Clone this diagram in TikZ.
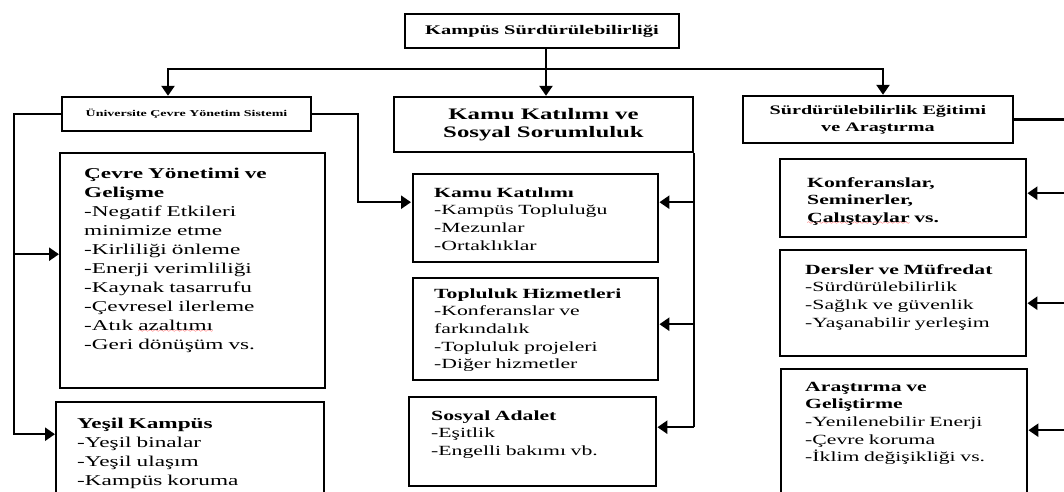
\documentclass[tikz,border=0pt]{standalone}
\usepackage{fontspec}
\setmainfont{Liberation Serif}[FakeStretch=1.55]
\usetikzlibrary{arrows.meta}

\font\dalgafont=lasy6
\newcommand\yanlis[1]{\setbox0\hbox{#1}\rlap{\textcolor{red}{\lower2.2pt\hbox to\wd0{\xleaders\hbox{\dalgafont\char58}\hfill}}}\box0\relax}

\begin{document}
\begin{tikzpicture}[x=1pt, y=-1pt,
		kutu/.style={draw, line width=2.4pt, anchor=north west, align=left, inner ysep=0pt},
		baslikkutu/.style={draw, line width=2.4pt, align=center},
		ok/.style={line width=2.4pt, -{Triangle[length=10pt,width=13pt]}},
		cizgi/.style={line width=2.4pt},
		solmetin/.style={font=\fontsize{15}{19}\selectfont},
		metin/.style={font=\fontsize{14}{17.6}\selectfont},
	]
	\useasboundingbox (0,0) rectangle (1064,491);
	\clip (0,0) rectangle (1064,491);

	% ust seviye
	\node[baslikkutu, font=\bfseries\fontsize{13.2}{16}\selectfont, minimum width=274pt, minimum height=34pt] (kampus) at (542,31) {Kampüs Sürdürülebilirliği};
	\node[baslikkutu, font=\bfseries\fontsize{9}{11}\selectfont, minimum width=249pt, minimum height=34pt] (ucys) at (186.5,114) {Üniversite Çevre Yönetim Sistemi};
	\node[baslikkutu, font=\bfseries\fontsize{16}{18}\selectfont, minimum width=299pt, minimum height=55pt] (kamu) at (543.5,124.5) {Kamu Katılımı ve\\Sosyal Sorumluluk};
	\node[baslikkutu, font=\bfseries\fontsize{13}{17}\selectfont, minimum width=270pt, minimum height=47pt] (egitim) at (878,119.5) {Sürdürülebilirlik Eğitimi\\ve Araştırma};

	% sol sutun
	\node[kutu, solmetin, inner xsep=24pt, text width=217pt, text height=25pt, text depth=210pt] (cevre) at (59,152) {\textbf{Çevre Yönetimi ve}\\\textbf{Gelişme}\\-Negatif Etkileri\\minimize etme\\-Kirliliği önleme\\-Enerji verimliliği\\-Kaynak tasarrufu\\-Çevresel ilerleme\\-Atık \yanlis{azaltımı}\\-Geri dönüşüm vs.};
	\node[kutu, solmetin, inner xsep=21pt, text width=226pt, text height=26pt, text depth=100pt] (yesil) at (55,401) {\textbf{Yeşil Kampüs}\\-Yeşil binalar\\-Yeşil ulaşım\\-Kampüs koruma};

	% orta sutun
	\node[kutu, metin, inner xsep=21pt, text width=203pt, text height=23pt, text depth=65pt] (kk) at (412,173) {\textbf{Kamu Katılımı}\\-Kampüs Topluluğu\\-Mezunlar\\-Ortaklıklar};
	\node[kutu, metin, inner xsep=21pt, text width=203pt, text height=20pt, text depth=82pt] (th) at (412,277) {\textbf{Topluluk Hizmetleri}\\-Konferanslar ve\\farkındalık\\-Topluluk projeleri\\-Diğer hizmetler};
	\node[kutu, metin, inner xsep=22pt, text width=203pt, text height=23pt, text depth=66pt] (sa) at (408,396) {\textbf{Sosyal Adalet}\\-Eşitlik\\-Engelli bakımı vb.};

	% sag sutun
	\node[kutu, metin, inner xsep=27pt, text width=192pt, text height=28pt, text depth=50pt] (konf) at (779,158) {\textbf{Konferanslar,}\\\textbf{Seminerler,}\\\textbf{\yanlis{Çalıştaylar} vs.}};
	\node[kutu, metin, inner xsep=25pt, text width=196pt, text height=24pt, text depth=82pt] (ders) at (779,249) {\textbf{Dersler ve Müfredat}\\-Sürdürülebilirlik\\-Sağlık ve güvenlik\\-Yaşanabilir yerleşim};
	\node[kutu, metin, inner xsep=24pt, text width=198pt, text height=22pt, text depth=110pt] (arge) at (780,368) {\textbf{Araştırma ve}\\\textbf{Geliştirme}\\-Yenilenebilir Enerji\\-Çevre koruma\\-İklim değişikliği vs.};

	% baglanti noktalari
	\coordinate (dal) at (546,69);
	\coordinate (solkol) at (14,0);
	\coordinate (ara) at (358,0);
	\coordinate (sagkol) at (1068,0);
	\coordinate (cevre-ok) at ([yshift=16.5pt]cevre.west);
	\coordinate (yesil-ok) at ([yshift=31pt]yesil.west);
	\foreach \k/\d in {kk/16,th/5,sa/14.5,konf/5,ders/0,arge/5}
		\coordinate (\k-ok) at ([yshift=\d pt]\k.east);

	% ust oklar
	\draw[ok] (kampus.south -| dal) -- (kamu.north -| dal);
	\draw[ok] (dal) -| ([xshift=-18.5pt]ucys.north);
	\draw[ok] (dal) -| ([xshift=5pt]egitim.north);

	% sol
	\draw[ok] (ucys.west) -| (solkol |- yesil-ok) -- (yesil-ok);
	\draw[ok] (solkol |- cevre-ok) -- (cevre-ok);
	\draw[ok] (ucys.east) -| (ara |- kk-ok) -- ([xshift=-1pt]kk.west |- kk-ok);

	% orta
	\draw[cizgi] (kamu.south east) -- (kamu.south east |- sa-ok);
	\foreach \k in {kk,th,sa}
		\draw[ok] (kamu.south east |- \k-ok) -- (\k-ok);

	% sag
	\draw[cizgi] (egitim.east) -- (egitim.east -| sagkol) -- (sagkol |- arge-ok);
	\foreach \k in {konf,ders,arge}
		\draw[ok] (sagkol |- \k-ok) -- (\k-ok);
\end{tikzpicture}
\end{document}
